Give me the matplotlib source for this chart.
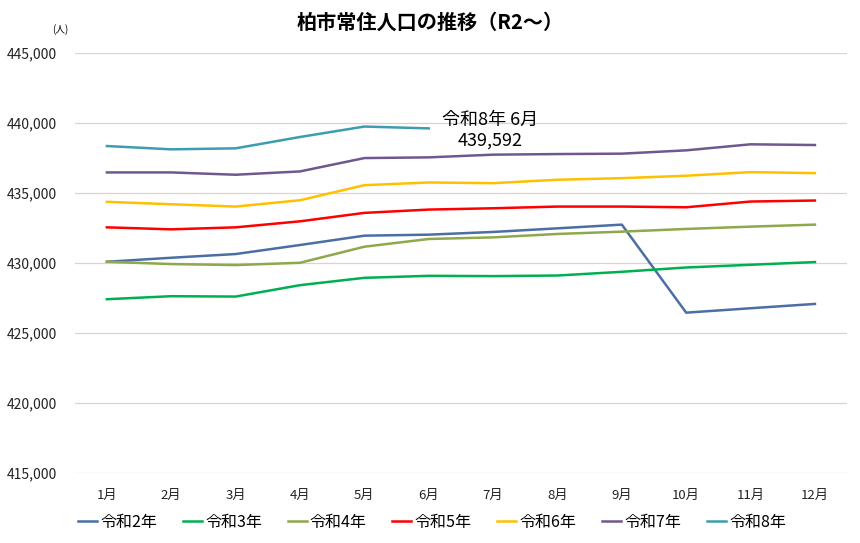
import matplotlib
matplotlib.use("Agg")
import matplotlib.pyplot as plt
from matplotlib.ticker import FuncFormatter, FixedLocator

plt.rcParams['font.family'] = ['Noto Sans CJK JP', 'DejaVu Sans']

months = ['1月', '2月', '3月', '4月', '5月', '6月', '7月', '8月', '9月', '10月', '11月', '12月']

r2 = [430065, 430352, 430617, 431262, 431929, 432001, 432194, 432453, 432718, 426430, 426745, 427053]
r3 = [427390, 427606, 427580, 428394, 428918, 429061, 429040, 429083, 429348, 429656, 429850, 430043]
r4 = [430065, 429900, 429828, 429993, 431140, 431692, 431807, 432051, 432216, 432409, 432574, 432718]
r5 = [432524, 432381, 432524, 432954, 433557, 433793, 433886, 434008, 434008, 433958, 434367, 434439]
r6 = [434345, 434173, 434008, 434460, 435536, 435729, 435679, 435923, 436037, 436210, 436468, 436396]
r7 = [436446, 436446, 436281, 436518, 437472, 437522, 437715, 437758, 437787, 438024, 438454, 438404]
r8 = [438332, 438095, 438167, 438977, 439723, 439592]

series_names = ['令和2年', '令和3年', '令和4年', '令和5年', '令和6年', '令和7年', '令和8年']
series_vals = [r2, r3, r4, r5, r6, r7, r8]
colors = ['#4B6FA3', '#00B050', '#8EA84B', '#FF0000', '#FFC000', '#70588F', '#3D9DB0']

yticks = [415000, 420000, 425000, 430000, 435000, 440000, 445000]

fig = plt.figure(figsize=(8.6, 5.43), dpi=100)
ax = fig.add_axes([0.0869, 0.1295, 0.8981, 0.7735])

x_all = list(range(len(months)))
for name, vals, c in zip(series_names, series_vals, colors):
    ax.plot(x_all[:len(vals)], vals, color=c, lw=1.8, label=name, solid_joinstyle='round')

ax.set_xlim(-0.5, len(months) - 0.5)
ax.set_ylim(415000, 445000)
ax.yaxis.set_major_locator(FixedLocator(yticks))
ax.yaxis.set_major_formatter(FuncFormatter(lambda v, p: f'{int(v):,}'))
ax.set_xticks(x_all)
ax.set_xticklabels(months)
ax.grid(axis='y', color='#D9D5C8', lw=0.9)
ax.set_axisbelow(True)
for s in ax.spines.values():
    s.set_visible(False)
ax.tick_params(axis='both', length=0, colors='#222222')
ax.tick_params(axis='y', pad=12.5, labelsize=10)
ax.tick_params(axis='x', pad=12, labelsize=9.5)

fig.text(430/860, 1 - 22/543, '柏市常住人口の推移（R2～）', ha='center', va='center',
         fontsize=14.5, fontweight='bold')
fig.text(60/860, 1 - 30/543, '(人)', ha='center', va='center', fontsize=7)

ax.annotate('令和8年 6月\n439,592', xy=(5, r8[5]), xytext=(5.95, 439450),
            ha='center', va='center', fontsize=13, linespacing=1.25)

leg = fig.legend(loc='center', bbox_to_anchor=(432/860, 1 - 522/543), ncol=7,
                 frameon=False, fontsize=11.5, handlelength=1.2, handletextpad=0.2,
                 columnspacing=1.6)

fig.savefig('out.png', dpi=100)
